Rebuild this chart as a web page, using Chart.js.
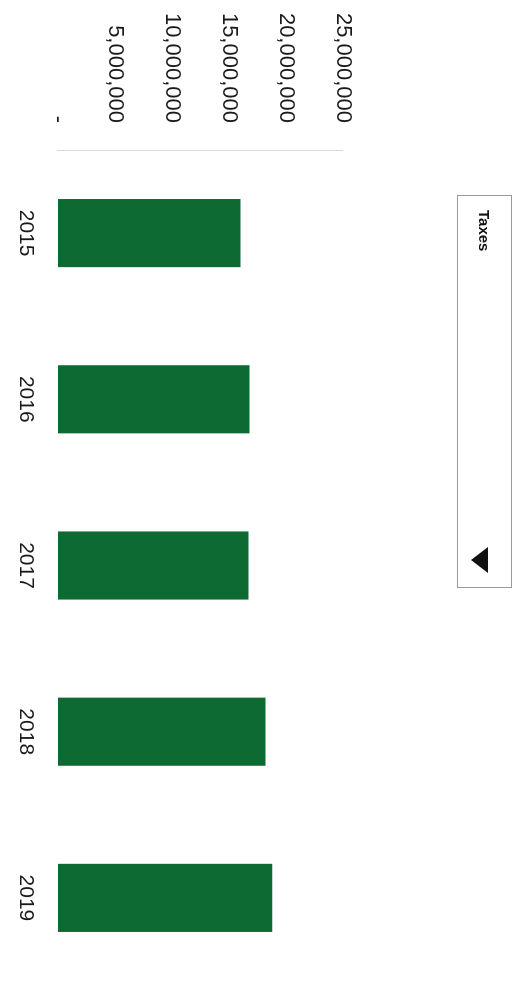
<!DOCTYPE html>
<html>
<head>
<meta charset="utf-8">
<script src="https://cdn.jsdelivr.net/npm/chart.js@4.4.1/dist/chart.umd.min.js"></script>
<style>
  html, body { margin: 0; padding: 0; background: #fff; overflow: hidden; }
  body { width: 523px; height: 988px; position: relative; }
  /* the scanned page is turned a quarter clockwise */
  #sheet {
    position: absolute; left: 0; top: 0;
    width: 988px; height: 523px;
    transform-origin: 0 0;
    transform: translate(523px, 0) rotate(90deg);
    background: #fff;
  }
  #chart { position: absolute; left: 0; top: 0; }
  #slicer {
    position: absolute; left: 195px; top: 11px;
    width: 391px; height: 53px;
    border: 1px solid #9a9a9a; background: #fff;
    font-family: "Liberation Sans", Arial, sans-serif;
  }
  #slicer .label {
    position: absolute; left: 14px; top: 18px;
    font-size: 15px; font-weight: bold; color: #111;
  }
  #slicer .arrow {
    position: absolute; left: 351px; top: 23px;
    width: 0; height: 0;
    border-left: 13px solid transparent;
    border-right: 13px solid transparent;
    border-top: 17px solid #111;
  }
</style>
</head>
<body>
<div id="sheet">
  <canvas id="chart" width="988" height="523"></canvas>
  <div id="slicer"><span class="label">Taxes</span><span class="arrow"></span></div>
</div>
<script>
// data
const years = ['2015', '2016', '2017', '2018', '2019'];
const taxes = [16000000, 16800000, 16700000, 18200000, 18800000];
const axisMin = 0;
const axisMax = 25000000;
const axisStep = 5000000;

const ctx = document.getElementById('chart').getContext('2d');

// eslint-disable-next-line no-undef
const chart = new Chart(ctx, {
    type: 'bar',
    data: {
        labels: years,
        datasets: [{
            label: 'Taxes',
            data: taxes,
            backgroundColor: '#0c6a32',
            borderWidth: 0,
            categoryPercentage: 1,
            barPercentage: 0.41
        }]
    },
    options: {
        responsive: false,
        animation: false,
        devicePixelRatio: 1,
        layout: {
            padding: { top: 180, right: 7, bottom: 0, left: 0 }
        },
        plugins: {
            legend: { display: false },
            title: { display: false },
            tooltip: { enabled: false }
        },
        scales: {
            x: {
                grid: { display: false },
                border: { display: false },
                ticks: {
                    color: '#1a1a1a',
                    padding: 12,
                    font: { family: 'Liberation Sans', size: 21 }
                },
                afterFit: (scale) => { scale.height = 58; }
            },
            y: {
                min: axisMin,
                max: axisMax,
                grid: { display: false },
                border: { display: true, color: '#d9d9d9', width: 1 },
                ticks: {
                    stepSize: axisStep,
                    color: '#1a1a1a',
                    padding: 19,
                    font: { family: 'Liberation Sans', size: 22 },
                    callback: (v) => v === 0 ? '-' : v.toLocaleString('en-US')
                },
                afterFit: (scale) => { scale.width = 150; }
            }
        }
    }
});
</script>
</body>
</html>
